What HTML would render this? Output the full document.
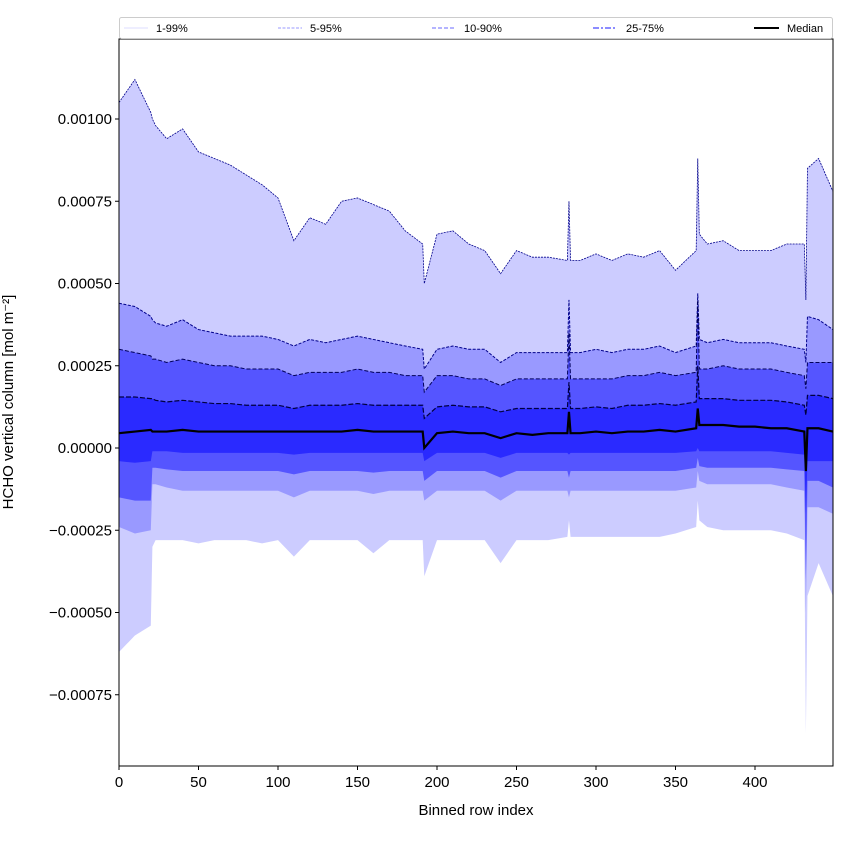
<!DOCTYPE html>
<html><head><meta charset="utf-8"><style>
body{margin:0;background:#fff;}
svg text{font-family:"Liberation Sans","DejaVu Sans",sans-serif;}
</style></head><body>
<svg id="chart" width="850" height="850" xmlns="http://www.w3.org/2000/svg">
<rect x="0" y="0" width="850" height="850" fill="#fff"/>
<g id="plot"></g>
<g id="axes"></g>
</svg>
<script>
const rowIndex=[0,10,20,21,23,30,40,50,60,70,80,90,100,110,120,130,140,150,160,170,180,191,192,200,210,220,230,240,250,260,270,282,283,284,290,300,310,320,330,340,350,363,364,365,370,380,390,400,410,420,431,432,433,440,449];
const p99=[10.5,11.2,10.2,10.0,9.8,9.4,9.7,9.0,8.8,8.6,8.3,8.0,7.6,6.3,7.0,6.8,7.5,7.6,7.4,7.2,6.6,6.2,5.0,6.5,6.6,6.2,6.0,5.3,6.0,5.8,5.8,5.7,7.5,5.7,5.7,5.9,5.7,5.9,5.8,6.0,5.4,6.0,8.8,6.5,6.2,6.3,6.0,6.0,6.0,6.2,6.2,4.5,8.5,8.8,7.8];
const p95=[4.4,4.3,4.0,3.9,3.8,3.7,3.9,3.6,3.5,3.4,3.4,3.4,3.3,3.1,3.3,3.2,3.3,3.4,3.3,3.2,3.1,3.0,2.4,3.0,3.1,3.0,3.0,2.6,2.9,2.9,2.9,2.9,4.5,2.9,2.9,3.0,2.9,3.0,3.0,3.1,2.9,3.1,4.7,3.3,3.2,3.3,3.2,3.2,3.2,3.1,3.0,2.6,4.0,3.9,3.6];
const p90=[3.0,2.9,2.8,2.7,2.7,2.6,2.7,2.6,2.5,2.5,2.4,2.4,2.4,2.2,2.3,2.3,2.3,2.4,2.3,2.3,2.2,2.2,1.7,2.2,2.2,2.1,2.1,1.9,2.1,2.1,2.1,2.1,3.5,2.1,2.1,2.1,2.1,2.2,2.2,2.3,2.2,2.3,4.5,2.4,2.4,2.5,2.4,2.4,2.4,2.3,2.2,1.8,2.6,2.6,2.6];
const p75=[1.55,1.55,1.5,1.5,1.45,1.4,1.45,1.4,1.35,1.35,1.3,1.3,1.3,1.2,1.3,1.3,1.3,1.35,1.3,1.3,1.3,1.3,0.9,1.25,1.3,1.25,1.25,1.1,1.2,1.2,1.2,1.2,2.0,1.2,1.2,1.25,1.2,1.3,1.3,1.35,1.3,1.4,2.5,1.5,1.5,1.5,1.45,1.45,1.45,1.4,1.3,1.0,1.6,1.6,1.5];
const p50=[0.45,0.5,0.55,0.5,0.5,0.5,0.55,0.5,0.5,0.5,0.5,0.5,0.5,0.5,0.5,0.5,0.5,0.55,0.5,0.5,0.5,0.5,0.0,0.45,0.5,0.45,0.45,0.3,0.45,0.4,0.45,0.45,1.1,0.45,0.45,0.5,0.45,0.5,0.5,0.55,0.5,0.6,1.2,0.7,0.7,0.7,0.65,0.65,0.6,0.6,0.5,-0.7,0.6,0.6,0.5];
const p25=[-0.4,-0.45,-0.4,-0.1,-0.1,-0.1,-0.15,-0.15,-0.15,-0.15,-0.15,-0.15,-0.15,-0.2,-0.15,-0.15,-0.15,-0.15,-0.15,-0.15,-0.15,-0.15,-0.4,-0.15,-0.15,-0.15,-0.15,-0.3,-0.15,-0.15,-0.15,-0.15,-0.2,-0.15,-0.15,-0.15,-0.15,-0.15,-0.15,-0.15,-0.15,-0.1,0.0,-0.1,-0.1,-0.1,-0.1,-0.1,-0.1,-0.15,-0.2,-2.0,-0.4,-0.4,-0.4];
const p10=[-1.5,-1.6,-1.6,-0.6,-0.6,-0.65,-0.7,-0.7,-0.7,-0.7,-0.7,-0.7,-0.7,-0.8,-0.7,-0.7,-0.7,-0.7,-0.75,-0.7,-0.7,-0.7,-1.0,-0.7,-0.7,-0.7,-0.7,-0.9,-0.7,-0.7,-0.7,-0.7,-0.9,-0.7,-0.7,-0.7,-0.7,-0.7,-0.7,-0.7,-0.7,-0.6,-0.3,-0.55,-0.6,-0.6,-0.6,-0.6,-0.6,-0.65,-0.7,-4.0,-1.0,-1.0,-1.2];
const p5=[-2.4,-2.6,-2.5,-1.1,-1.1,-1.2,-1.3,-1.3,-1.3,-1.3,-1.3,-1.3,-1.3,-1.5,-1.3,-1.3,-1.3,-1.3,-1.4,-1.3,-1.3,-1.3,-1.6,-1.3,-1.3,-1.3,-1.3,-1.6,-1.3,-1.3,-1.3,-1.3,-1.5,-1.3,-1.3,-1.3,-1.3,-1.3,-1.3,-1.3,-1.3,-1.2,-0.7,-1.0,-1.1,-1.1,-1.1,-1.1,-1.1,-1.2,-1.3,-5.0,-1.8,-1.8,-2.0];
const p1=[-6.2,-5.7,-5.4,-3.0,-2.8,-2.8,-2.8,-2.9,-2.8,-2.8,-2.8,-2.9,-2.8,-3.3,-2.8,-2.8,-2.8,-2.8,-3.2,-2.8,-2.8,-2.8,-3.9,-2.8,-2.8,-2.8,-2.8,-3.5,-2.8,-2.8,-2.8,-2.7,-2.2,-2.7,-2.7,-2.7,-2.7,-2.7,-2.7,-2.7,-2.6,-2.4,-1.6,-2.2,-2.4,-2.5,-2.5,-2.5,-2.5,-2.6,-2.8,-8.7,-4.5,-3.5,-4.5];
const yTicks=[0.001,0.00075,0.0005,0.00025,0,-0.00025,-0.0005,-0.00075];
const yTickLabels=["0.00100","0.00075","0.00050","0.00025","0.00000","\u22120.00025","\u22120.00050","\u22120.00075"];
const xTicks=[0,50,100,150,200,250,300,350,400];

const L=119,R=833,T=39,B=766;
const X=v=>L+v*1.59;
const Y=v=>448-v*1e-4*329000;
const Yraw=v=>448-v*329000;
const NS="http://www.w3.org/2000/svg";
const plot=document.getElementById('plot'),axes=document.getElementById('axes');
function mk(tag,attrs,parent){const e=document.createElementNS(NS,tag);for(const k in attrs)e.setAttribute(k,attrs[k]);parent.appendChild(e);return e;}
const clip=mk('clipPath',{id:'cp'},plot);mk('rect',{x:L,y:T,width:R-L,height:B-T},clip);
const g=mk('g',{'clip-path':'url(#cp)'},plot);
function band(hi,lo,fill,name){
  let d='M'+rowIndex.map((x,i)=>X(x)+','+Y(hi[i])).join('L');
  for(let i=rowIndex.length-1;i>=0;i--)d+='L'+X(rowIndex[i])+','+Y(lo[i]);
  const p=mk('path',{d:d+'Z',fill:fill},g);
  
  
}
function line(arr,stroke,w,dash,name){
  const p=mk('path',{d:'M'+rowIndex.map((x,i)=>X(x)+','+Y(arr[i])).join('L'),fill:'none',stroke:stroke,'stroke-width':w,'stroke-dasharray':dash},g);
  
  
}
band(p99,p1,'#ccccff','band-1-99');
band(p95,p5,'#9999ff','band-5-95');
band(p90,p10,'#5555ff','band-10-90');
band(p75,p25,'#2a2aff','band-25-75');
line(p99,'#00008b',0.8,'2,1','line-p99');
line(p95,'#00008b',1,'3,1.5','line-p95');
line(p90,'#00005a',1,'4,2','line-p90');
line(p75,'#000040',1.2,'5,2','line-p75');
line(p50,'#000',2.2,'','line-median');
mk('rect',{x:L,y:T,width:R-L,height:B-T,fill:'none',stroke:'#000','stroke-width':1},axes);
yTicks.forEach((v,i)=>{
  const y=Yraw(v);
  mk('line',{x1:L-4,x2:L,y1:y,y2:y,stroke:'#000'},axes);
  const t=mk('text',{x:L-7,y:y+5,'text-anchor':'end','font-size':15},axes);t.textContent=yTickLabels[i];
  
  
});
xTicks.forEach(v=>{
  const x=X(v);
  mk('line',{x1:x,x2:x,y1:B,y2:B+4,stroke:'#000'},axes);
  const t=mk('text',{x:x,y:B+21,'text-anchor':'middle','font-size':15},axes);t.textContent=v;
  
  
});
</script>
<svg style="position:absolute;left:0;top:0" width="850" height="850" xmlns="http://www.w3.org/2000/svg">
<text x="476" y="815" text-anchor="middle" font-size="15">Binned row index</text>
<text transform="translate(13,402) rotate(-90)" text-anchor="middle" font-size="15">HCHO vertical column [mol m⁻²]</text>
<g>
<rect x="119.5" y="17.5" width="713" height="21" fill="#fff" stroke="#ccc" rx="2"/>
<g><line x1="124" x2="148" y1="28" y2="28" stroke="#ddddff" stroke-width="1"/><text x="156" y="32" font-size="11">1-99%</text></g>
<g><line x1="278" x2="302" y1="28" y2="28" stroke="#9999ff" stroke-dasharray="3,1.5"/><text x="310" y="32" font-size="11">5-95%</text></g>
<g><line x1="432" x2="456" y1="28" y2="28" stroke="#8888ff" stroke-dasharray="4,2" stroke-width="1.2"/><text x="464" y="32" font-size="11">10-90%</text></g>
<g><line x1="593" x2="617" y1="28" y2="28" stroke="#6666ff" stroke-dasharray="6,2,2,2" stroke-width="1.6"/><text x="626" y="32" font-size="11">25-75%</text></g>
<g><line x1="754" x2="779" y1="28" y2="28" stroke="#000" stroke-width="2"/><text x="787" y="32" font-size="11">Median</text></g>
</g>
</svg>
</body></html>
